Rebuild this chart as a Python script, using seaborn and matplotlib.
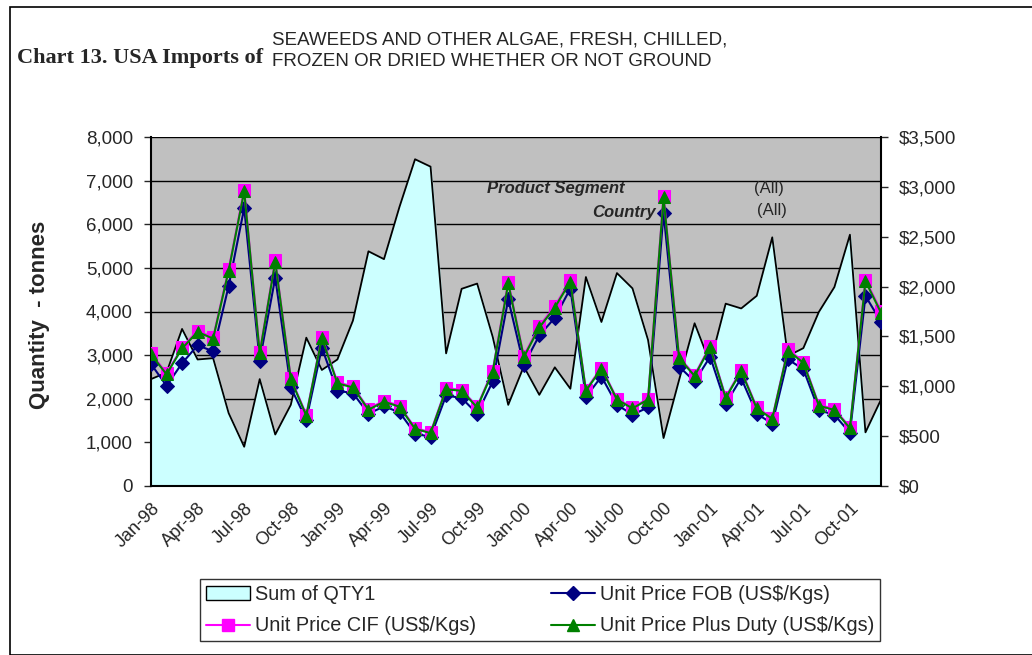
import matplotlib
matplotlib.use("Agg")
import matplotlib.pyplot as plt
import matplotlib.patches as mpatches
from matplotlib.lines import Line2D
from matplotlib.ticker import FuncFormatter
import numpy as np
import pandas as pd
import seaborn as sns

months = pd.date_range("1998-01-01", "2001-12-01", freq="MS")
month_labels = [d.strftime("%b-%y") for d in months]

qty = [2450, 2600, 3600, 2900, 2930, 1670, 900, 2450, 1180, 1860,
       3400, 2660, 2900, 3790, 5380, 5200, 6400, 7490, 7320, 3040,
       4520, 4640, 3420, 1860, 2740, 2090, 2720, 2230, 4790, 3760,
       4880, 4530, 3350, 1100, 2430, 3730, 2810, 4180, 4070, 4360,
       5700, 2980, 3160, 3990, 4560, 5760, 1230, 1980]

price_fob = [1224, 1005, 1231, 1411, 1351, 2006, 2788, 1258, 2089, 988,
             665, 1387, 955, 932, 725, 798, 740, 526, 492, 908,
             882, 725, 1048, 1873, 1214, 1510, 1687, 1980, 892, 1098,
             815, 715, 788, 2738, 1198, 1048, 1297, 825, 1081, 725,
             625, 1271, 1171, 759, 715, 532, 1906, 1647]

price_cif = [1331, 1131, 1391, 1557, 1490, 2173, 2971, 1341, 2262, 1081,
             715, 1497, 1041, 998, 775, 855, 805, 582, 539, 981,
             965, 798, 1158, 2046, 1304, 1604, 1803, 2063, 965, 1188,
             875, 788, 875, 2911, 1291, 1115, 1404, 892, 1164, 788,
             682, 1371, 1248, 815, 772, 589, 2069, 1753]

price_duty = [1320, 1120, 1380, 1545, 1478, 2160, 2955, 1330, 2250, 1070,
              705, 1485, 1030, 988, 765, 845, 795, 574, 530, 970,
              955, 788, 1146, 2032, 1292, 1590, 1790, 2050, 955, 1176,
              866, 779, 866, 2895, 1280, 1104, 1392, 882, 1152, 778,
              673, 1358, 1236, 805, 762, 580, 2055, 1738]

df = pd.DataFrame({
    "idx": np.arange(len(months)),
    "qty": qty,
    "fob": price_fob,
    "cif": price_cif,
    "duty": price_duty,
})

sns.set_style("white")
plt.rcParams["font.family"] = ["Liberation Sans", "DejaVu Sans"]

fig = plt.figure(figsize=(10.32, 6.55), dpi=100)
W, H = 1032, 655
ax = fig.add_axes([151 / W, 1 - 486 / H, (881 - 151) / W, (486 - 137) / H])
ax.set_facecolor("#C0C0C0")

# area series on the left axis
ax.fill_between(df["idx"], 0, df["qty"], color="#CCFFFF", zorder=2)
sns.lineplot(data=df, x="idx", y="qty", ax=ax, color="black", lw=1.3, zorder=3)
ax.set_ylim(0, 8000)
ax.set_xlim(0, len(months) - 1)
ax.set_yticks(np.arange(0, 8001, 1000))
ax.yaxis.set_major_formatter(FuncFormatter(lambda v, p: f"{int(v):,}"))
ax.grid(axis="y", color="black", lw=1.0, zorder=1)
ax.grid(axis="x", visible=False)
ax.set_axisbelow(True)
ax.set_xticks(np.arange(0, len(months), 3))
ax.set_xticklabels(month_labels[::3], rotation=45, ha="right",
                   rotation_mode="anchor", fontsize=13)
ax.tick_params(axis="x", length=5, direction="out", width=1, pad=5)
ax.tick_params(axis="y", length=5, direction="out", width=1, labelsize=13.5,
               pad=8)
ax.set_xlabel("")
ax.set_ylabel("Quantity  - tonnes", fontsize=16, fontweight="bold")
ax.yaxis.set_label_coords(50 / W, 1 - 315 / H, transform=fig.transFigure)
for s in ax.spines.values():
    s.set_visible(False)
ax.spines["left"].set_visible(True)
ax.spines["bottom"].set_visible(True)
ax.spines["left"].set_color("black")
ax.spines["bottom"].set_color("black")
ax.spines["left"].set_linewidth(1.5)
ax.spines["bottom"].set_linewidth(1.5)

# price series on the right axis
ax2 = ax.twinx()
sns.lineplot(data=df, x="idx", y="fob", ax=ax2, color="#000080", lw=1.5,
             marker="D", markersize=7, markeredgecolor="#000080", zorder=4)
sns.lineplot(data=df, x="idx", y="cif", ax=ax2, color="#FF00FF", lw=1.5,
             marker="s", markersize=8, markeredgecolor="#FF00FF", zorder=5)
sns.lineplot(data=df, x="idx", y="duty", ax=ax2, color="#008000", lw=1.5,
             marker="^", markersize=9, markeredgecolor="#008000", zorder=6)
ax2.set_ylim(0, 3500)
ax2.set_xlim(0, len(months) - 1)
ax2.set_yticks(np.arange(0, 3501, 500))
ax2.yaxis.set_major_formatter(FuncFormatter(lambda v, p: f"${int(v):,}"))
ax2.tick_params(axis="y", length=5, direction="out", width=1, labelsize=13.5,
                pad=8)
ax2.set_ylabel("")
ax2.grid(False)
for s in ax2.spines.values():
    s.set_visible(False)
ax2.spines["right"].set_visible(True)
ax2.spines["right"].set_color("black")
ax2.spines["right"].set_linewidth(1.5)

# page-field labels drawn over the plot
fig.text(487 / W, 1 - 188 / H, "Product Segment", fontsize=12,
         fontweight="bold", style="italic", va="center", ha="left")
fig.text(754 / W, 1 - 188 / H, "(All)", fontsize=12, va="center", ha="left")
fig.text(592 / W, 1 - 212 / H, "Country", fontsize=12,
         fontweight="bold", style="italic", va="center", ha="left")
fig.text(757 / W, 1 - 211 / H, "(All)", fontsize=12, va="center", ha="left")

# titles
fig.text(17 / W, 1 - 58 / H, "Chart 13. USA Imports of", fontsize=16,
         fontweight="bold", family=["Liberation Serif", "DejaVu Serif"],
         va="center", ha="left")
fig.text(272 / W, 1 - 40 / H, "SEAWEEDS AND OTHER ALGAE, FRESH, CHILLED,",
         fontsize=13.5, va="center", ha="left")
fig.text(272 / W, 1 - 62 / H, "FROZEN OR DRIED WHETHER OR NOT GROUND",
         fontsize=13.5, va="center", ha="left")

# outer chart border
fig.patches.append(mpatches.Rectangle((10 / W, 0), 1.2, 1 - 7 / H,
                                      transform=fig.transFigure, fill=False,
                                      edgecolor="black", lw=1.2))

handles = [
    mpatches.Patch(facecolor="#CCFFFF", edgecolor="black", label="Sum of QTY1"),
    Line2D([], [], color="#FF00FF", marker="s", markersize=8,
           label="Unit Price CIF (US$/Kgs)"),
    Line2D([], [], color="#000080", marker="D", markersize=7,
           label="Unit Price FOB (US$/Kgs)"),
    Line2D([], [], color="#008000", marker="^", markersize=8,
           label="Unit Price Plus Duty (US$/Kgs)"),
]
leg = fig.legend(handles=handles, ncol=2, loc="center",
                 bbox_to_anchor=(540 / W, 1 - 610 / H), fontsize=14.3,
                 frameon=True, fancybox=False, edgecolor="black",
                 columnspacing=3.8, handlelength=2.2, handletextpad=0.25,
                 borderpad=0.3, labelspacing=0.65, borderaxespad=0)
leg.get_frame().set_linewidth(1.0)

plt.savefig("out.png", dpi=100)
plt.close()
